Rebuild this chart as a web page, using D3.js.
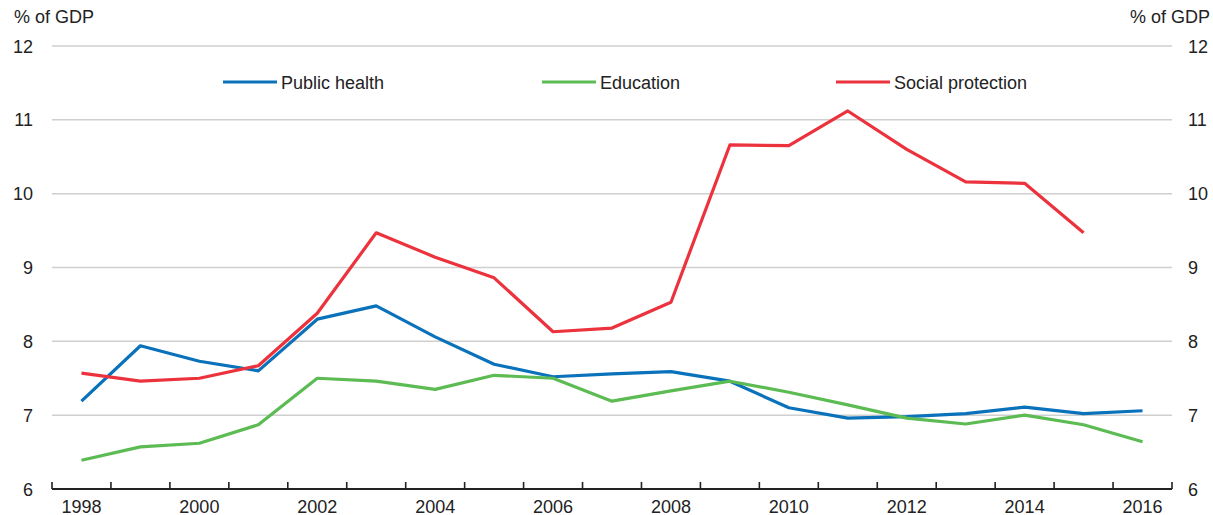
<!DOCTYPE html>
<html>
<head>
<meta charset="utf-8">
<script src="https://cdn.jsdelivr.net/npm/d3@7"></script>
<style>
  body { margin: 0; background: #fff; }
  text { font-family: "Liberation Sans", Arial, sans-serif; fill: #222; }
</style>
</head>
<body>
<div id="paper"></div>
<script>
// public spending chart, three series, % of GDP

const years = d3.range(1998, 2017);
const yTicks = [6, 7, 8, 9, 10, 11, 12];
const xLabels = [1998, 2000, 2002, 2004, 2006, 2008, 2010, 2012, 2014, 2016];

const health = [7.19, 7.94, 7.73, 7.60, 8.30, 8.48, 8.06, 7.69, 7.52, 7.56, 7.59, 7.46, 7.10, 6.96, 6.98, 7.02, 7.11, 7.02, 7.06];
const education = [6.39, 6.57, 6.62, 6.87, 7.50, 7.46, 7.35, 7.54, 7.50, 7.19, 7.33, 7.46, 7.31, 7.14, 6.96, 6.88, 7.00, 6.87, 6.64];
const social = [7.57, 7.46, 7.50, 7.67, 8.38, 9.47, 9.14, 8.86, 8.13, 8.18, 8.53, 10.66, 10.65, 11.12, 10.60, 10.16, 10.14, 9.47];

const seriesNames = ["Public health", "Education", "Social protection"];
const seriesValues = [health, education, social];
const colours = ["#0a72ba", "#5cbb52", "#ec323c"];

const width = 1213, height = 515;
const plotLeft = 52, plotRight = 1172, plotTop = 46, plotBottom = 489;
const fs = 18;

const svg = d3.select("#paper").append("svg")
  .attr("width", width).attr("height", height);

const x = d3.scaleBand().domain(years).range([plotLeft, plotRight]);
const y = d3.scaleLinear().domain([6, 12]).range([plotBottom, plotTop]);

// gridlines
svg.append("g").selectAll("line")
  .data(yTicks.filter(d => d > 6))
  .join("line")
  .attr("x1", plotLeft).attr("x2", plotRight)
  .attr("y1", d => y(d)).attr("y2", d => y(d))
  .attr("stroke", "#cfcfcf").attr("stroke-width", 1.5);

// left / right tick labels
svg.append("g").selectAll("text")
  .data(yTicks).join("text")
  .attr("x", 33).attr("y", d => y(d) + 6.5)
  .attr("text-anchor", "end").attr("font-size", fs)
  .text(d => d);
svg.append("g").selectAll("text")
  .data(yTicks).join("text")
  .attr("x", 1188).attr("y", d => y(d) + 6.5)
  .attr("text-anchor", "start").attr("font-size", fs)
  .text(d => d);

svg.append("text").attr("x", 14).attr("y", 23).attr("font-size", fs).text("% of GDP");
svg.append("text").attr("x", 1210).attr("y", 23).attr("font-size", fs)
  .attr("text-anchor", "end").text("% of GDP");

// x axis, ticks at band edges pointing up
const xAxis = svg.append("g").attr("transform", `translate(0,${plotBottom})`);
xAxis.append("line").attr("x1", plotLeft).attr("x2", plotRight)
  .attr("stroke", "#222").attr("stroke-width", 2);
xAxis.selectAll("line.tk")
  .data(years.concat([2017])).join("line").attr("class", "tk")
  .attr("x1", d => d === 2017 ? plotRight : x(d)).attr("x2", d => d === 2017 ? plotRight : x(d))
  .attr("y1", 0).attr("y2", -7)
  .attr("stroke", "#222").attr("stroke-width", 1.6);
xAxis.selectAll("text")
  .data(xLabels).join("text")
  .attr("x", d => x(d) + x.bandwidth() / 2).attr("y", 23.5)
  .attr("text-anchor", "middle").attr("font-size", fs)
  .text(d => d);

// lines
const line = d3.line()
  .x((d, i) => x(years[i]) + x.bandwidth() / 2)
  .y(d => y(d));

seriesValues.forEach((vals, k) => {
  svg.append("path").datum(vals)
    .attr("d", line)
    .attr("fill", "none")
    .attr("stroke", colours[k])
    .attr("stroke-width", 3.2)
    .attr("stroke-linejoin", "round");
});

// legend
const legendX = [223, 542, 836];
seriesNames.forEach((name, k) => {
  svg.append("line")
    .attr("x1", legendX[k]).attr("x2", legendX[k] + 54)
    .attr("y1", 82).attr("y2", 82)
    .attr("stroke", colours[k]).attr("stroke-width", 3.2);
  svg.append("text")
    .attr("x", legendX[k] + 58).attr("y", 88.5)
    .attr("font-size", fs)
    .text(name);
});
</script>
</body>
</html>
